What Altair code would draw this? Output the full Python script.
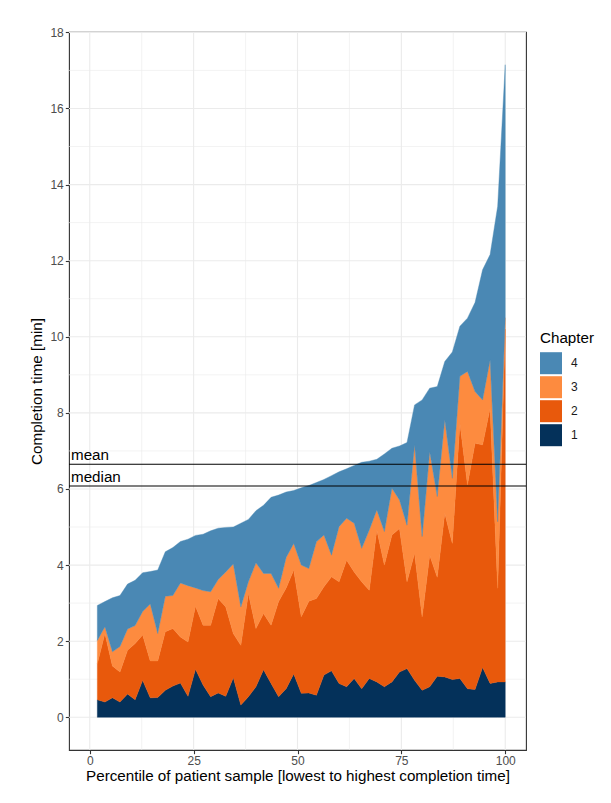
import altair as alt
import pandas as pd

# Percentile of patient sample (x positions of the stacked areas)
percentile = [1.82, 3.64, 5.45, 7.27, 9.09, 10.91, 12.73, 14.55, 16.36, 18.18,
              20.00, 21.82, 23.64, 25.45, 27.27, 29.09, 30.91, 32.73, 34.55, 36.36,
              38.18, 40.00, 41.82, 43.64, 45.45, 47.27, 49.09, 50.91, 52.73, 54.55,
              56.36, 58.18, 60.00, 61.82, 63.64, 65.45, 67.27, 69.09, 70.91, 72.73,
              74.55, 76.36, 78.18, 80.00, 81.82, 83.64, 85.45, 87.27, 89.09, 90.91,
              92.73, 94.55, 96.36, 98.18, 100.00]

# Completion time per chapter [min]
ch1 = [0.46, 0.40, 0.51, 0.40, 0.61, 0.46, 0.97, 0.51, 0.52, 0.71,
       0.82, 0.90, 0.55, 1.26, 0.85, 0.54, 0.64, 0.55, 1.04, 0.32,
       0.54, 0.80, 1.25, 0.89, 0.54, 0.75, 1.14, 0.63, 0.64, 0.58,
       1.11, 1.22, 0.89, 0.80, 1.02, 0.75, 1.02, 0.93, 0.80, 0.93,
       1.19, 1.28, 0.97, 0.71, 0.80, 1.08, 1.06, 0.99, 1.02, 0.75,
       0.73, 1.31, 0.89, 0.93, 0.93]
ch2 = [0.95, 1.80, 0.84, 0.79, 1.15, 1.48, 1.19, 0.97, 0.96, 1.54,
       1.51, 1.21, 1.43, 1.66, 1.57, 1.88, 2.48, 2.35, 1.16, 1.57,
       2.71, 1.53, 1.48, 1.53, 2.50, 2.65, 2.73, 2.01, 2.41, 2.54,
       2.32, 2.47, 2.67, 3.33, 2.80, 2.81, 2.32, 3.99, 3.20, 3.86,
       3.77, 2.28, 3.34, 1.93, 3.46, 2.60, 4.30, 3.58, 6.71, 5.36,
       6.47, 5.85, 7.23, 2.46, 9.27]
ch3 = [0.61, 0.18, 0.37, 0.67, 0.56, 0.47, 0.62, 1.50, 0.72, 0.93,
       0.87, 1.42, 1.48, 0.48, 0.91, 0.88, 0.50, 0.92, 1.83, 1.01,
       0.31, 1.73, 1.05, 1.36, 0.35, 0.80, 0.70, 1.36, 0.86, 1.49,
       1.36, 0.57, 1.45, 1.10, 1.28, 0.88, 1.58, 0.53, 0.88, 1.23,
       0.75, 1.49, 2.85, 2.11, 2.72, 2.12, 2.46, 1.71, 1.23, 2.98,
       1.36, 1.18, 1.27, 1.75, 0.30]
ch4 = [0.92, 0.66, 1.42, 1.34, 1.18, 1.19, 1.02, 0.85, 1.67, 1.17,
       1.26, 1.09, 1.22, 1.38, 1.48, 1.60, 1.35, 1.17, 0.97, 2.20,
       1.64, 1.37, 1.79, 2.00, 2.45, 1.72, 1.39, 2.03, 2.18, 1.56,
       1.46, 2.09, 1.44, 1.30, 1.52, 2.26, 1.81, 1.33, 2.04, 1.05,
       1.42, 2.17, 1.05, 3.59, 1.67, 2.89, 1.53, 3.32, 1.32, 1.40,
       2.34, 3.42, 2.77, 8.29, 6.65]

chapter_names = ["4", "3", "2", "1"]
chapter_colors = ["#4a88b4", "#fd8b3f", "#e8590c", "#04315a"]

ref_labels = ["mean", "median"]
ref_values = [6.65, 6.08]

x_major = [0, 25, 50, 75, 100]
x_minor = [12.5, 37.5, 62.5, 87.5]
y_major = [0, 2, 4, 6, 8, 10, 12, 14, 16, 18]
y_minor = [1, 3, 5, 7, 9, 11, 13, 15, 17]

rows = []
for i, p in enumerate(percentile):
    for ch, vals in (("1", ch1), ("2", ch2), ("3", ch3), ("4", ch4)):
        rows.append({"percentile": p, "chapter": ch, "minutes": vals[i], "stackorder": int(ch)})
df = pd.DataFrame(rows)
ref_df = pd.DataFrame({"label": ref_labels, "value": ref_values})

FONT = "Liberation Sans"
GRID = "#EBEBEB"
TITLE_SIZE = 15.2
LABEL_SIZE = 12
xs = alt.Scale(domain=[-5, 105], nice=False, zero=False)
ys = alt.Scale(domain=[-0.86, 18.01], nice=False, zero=False)
x_axis = alt.Axis(values=x_major, format="d",
                  title="Percentile of patient sample [lowest to highest completion time]")
y_axis = alt.Axis(values=y_major, format="d", title="Completion time [min]")

gx_minor = alt.Chart(pd.DataFrame({"v": x_minor})).mark_rule(color=GRID, strokeWidth=0.6).encode(
    x=alt.X("v:Q", scale=xs, axis=x_axis))
gy_minor = alt.Chart(pd.DataFrame({"v": y_minor})).mark_rule(color=GRID, strokeWidth=0.6).encode(
    y=alt.Y("v:Q", scale=ys, axis=y_axis))
gx_major = alt.Chart(pd.DataFrame({"v": x_major})).mark_rule(color=GRID, strokeWidth=1.1).encode(
    x=alt.X("v:Q", scale=xs, axis=x_axis))
gy_major = alt.Chart(pd.DataFrame({"v": y_major})).mark_rule(color=GRID, strokeWidth=1.1).encode(
    y=alt.Y("v:Q", scale=ys, axis=y_axis))

area = alt.Chart(df).mark_area(interpolate="linear", strokeWidth=0.4).encode(
    x=alt.X("percentile:Q", scale=xs, axis=x_axis),
    y=alt.Y("minutes:Q", scale=ys, stack="zero", axis=y_axis),
    color=alt.Color("chapter:N", scale=alt.Scale(domain=chapter_names, range=chapter_colors),
                    legend=alt.Legend(title="Chapter")),
    stroke=alt.Stroke("chapter:N", scale=alt.Scale(domain=chapter_names, range=chapter_colors),
                      legend=None),
    order=alt.Order("stackorder:Q", sort="ascending"),
)

rules = alt.Chart(ref_df).mark_rule(color="black", strokeWidth=1.1).encode(
    y=alt.Y("value:Q", scale=ys, axis=y_axis))
texts = alt.Chart(ref_df).mark_text(align="left", baseline="alphabetic", dy=-4,
                                    fontSize=TITLE_SIZE, font=FONT, color="black").encode(
    x=alt.value(2),
    y=alt.Y("value:Q", scale=ys, axis=y_axis),
    text="label:N")

chart = alt.layer(gx_minor, gy_minor, gx_major, gy_major, area, rules, texts).properties(
    width=457, height=718,
    autosize=alt.AutoSizeParams(type="none"),
    padding={"left": 61, "top": 24, "right": 77, "bottom": 45},
).configure_view(
    stroke="#333333", strokeWidth=1.1
).configure_axis(
    grid=False, domain=False, tickColor="#333333", tickSize=3.7, tickWidth=1.1,
    labelColor="#4D4D4D", labelFontSize=LABEL_SIZE, labelFont=FONT, labelPadding=2,
    titleFont=FONT, titleFontSize=TITLE_SIZE, titleColor="black", titleFontWeight="normal",
).configure_axisX(titlePadding=2).configure_axisY(titlePadding=5).configure_legend(
    orient="none", legendX=471, legendY=299,
    titleFont=FONT, titleFontSize=TITLE_SIZE, titleColor="black", titleFontWeight="normal",
    titlePadding=6,
    labelFont=FONT, labelFontSize=LABEL_SIZE, labelColor="#1a1a1a", labelOffset=9,
    symbolType="square", symbolSize=484, symbolStrokeWidth=0, rowPadding=2,
)

chart.save("out.html", embed_options={"renderer": "svg", "actions": False})
